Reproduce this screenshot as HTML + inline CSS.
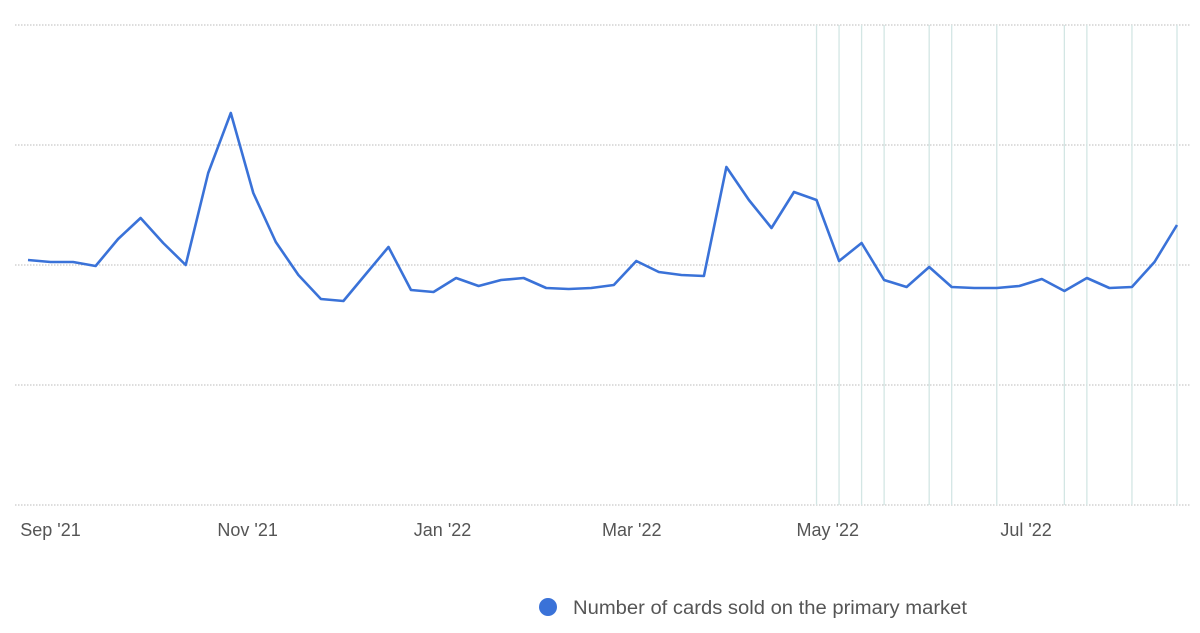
<!DOCTYPE html>
<html><head><meta charset="utf-8"><style>
html,body{margin:0;padding:0;background:#fff;width:1200px;height:633px;overflow:hidden}
svg text{font-family:"Liberation Sans",sans-serif;fill:#555}
</style></head><body>
<svg id="chart" width="1200" height="633" viewBox="0 0 1200 633">
<g id="grid"></g>
<g id="vlines"></g>
<g id="xaxis"></g>
<path id="line" fill="none" stroke="#3a72d8" stroke-width="2.6" stroke-linejoin="round"/>
<g>
<circle cx="548" cy="607" r="9" fill="#3a72d8"/>
<text x="573" y="614" font-size="19" textLength="394" lengthAdjust="spacingAndGlyphs">Number of cards sold on the primary market</text>
</g>
</svg>
<script>
const values=[204.2,202.5,202.5,199.2,221.7,239.2,218.3,200,276.7,326.7,260,219.2,191.7,171.7,170,192.5,215,179.2,177.5,189.2,182.5,187.5,189.2,180.8,180,180.8,183.3,203.3,194.2,191.7,190.8,281.7,254.2,230.8,260.8,254.2,203.3,218.3,187.5,181.7,198.3,181.7,180.8,180.8,182.5,188.3,178.3,189.2,180.8,181.7,202.5,233.3];
const yTicks=[0,100,200,300,400];
const xLabels=["Sep '21","Nov '21","Jan '22","Mar '22","May '22","Jul '22"];
const xLabelIdx=[1,9.75,18.4,26.8,35.5,44.3];
const markedIdx=[35,36,37,38,40,41,43,46,47,49,51];
const NS="http://www.w3.org/2000/svg";
const x0=28,x1=1177;
function xs(i){return x0+i*(x1-x0)/(values.length-1);}
function ys(v){return 505-v*1.2;}
const grid=document.getElementById('grid');
yTicks.forEach(t=>{const l=document.createElementNS(NS,'line');


l.setAttribute('x1',15);l.setAttribute('x2',1190);l.setAttribute('y1',ys(t));l.setAttribute('y2',ys(t));
l.setAttribute('stroke','#bbb');l.setAttribute('stroke-width','1');l.setAttribute('stroke-dasharray','1.5 1.5');grid.appendChild(l);});
const vg=document.getElementById('vlines');
markedIdx.forEach(i=>{const l=document.createElementNS(NS,'line');


l.setAttribute('x1',xs(i));l.setAttribute('x2',xs(i));l.setAttribute('y1',ys(400));l.setAttribute('y2',ys(0));
l.setAttribute('stroke','#d3e6e4');l.setAttribute('stroke-width','1.3');vg.appendChild(l);});
const xa=document.getElementById('xaxis');
xLabels.forEach((s,k)=>{const t=document.createElementNS(NS,'text');


t.setAttribute('x',xs(xLabelIdx[k]));t.setAttribute('y',536);t.setAttribute('text-anchor','middle');t.setAttribute('font-size','18');
t.textContent=s;xa.appendChild(t);});
document.getElementById('line').setAttribute('d',values.map((v,i)=>(i?'L':'M')+xs(i).toFixed(1)+' '+ys(v).toFixed(1)).join(' '));
</script>
</body></html>
